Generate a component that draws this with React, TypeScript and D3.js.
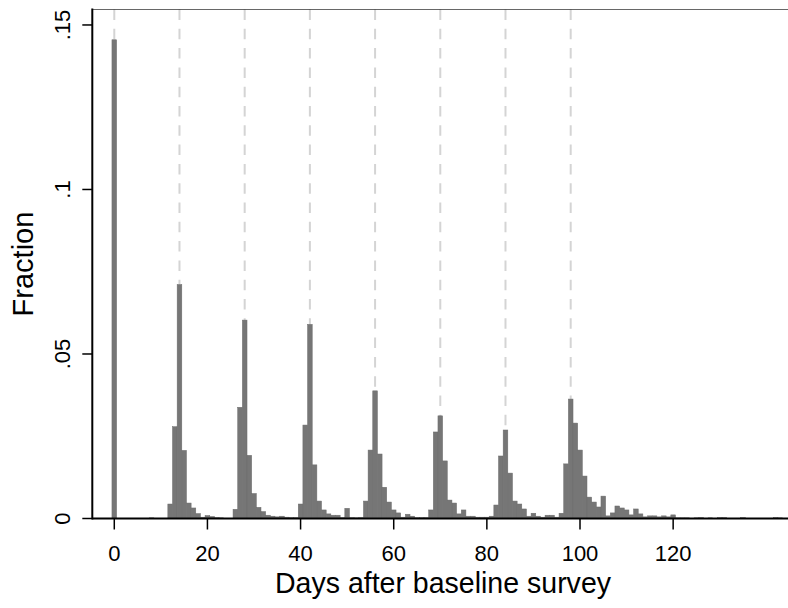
import React from "react";
import * as d3 from "d3";

// Fraction of observations by day after baseline survey (day index = position)
const fractions: number[] = [
  0.1455, 0, 0, 0, 0, 0, 0, 0, 0.0002, 0, // 0-9
  0, 0, 0.0044, 0.0279, 0.0711, 0.0207, 0.0047, 0.0032, 0.0015, 0.0004, // 10-19
  0.0009, 0.0006, 0.0003, 0.0002, 0, 0, 0.0028, 0.0338, 0.0603, 0.0192, // 20-29
  0.0076, 0.0034, 0.0021, 0.001, 0.0007, 0.0005, 0.0007, 0.0004, 0.0003, 0.0003, // 30-39
  0.0044, 0.0284, 0.059, 0.0163, 0.0053, 0.0026, 0.0014, 0.001, 0.001, 0.0003, // 40-49
  0.0031, 0.0003, 0.0002, 0.0003, 0.0053, 0.0208, 0.0388, 0.0196, 0.0095, 0.005, // 50-59
  0.0026, 0.0017, 0.0004, 0.0013, 0.0007, 0.0003, 0.0003, 0.0003, 0.0026, 0.0263, // 60-69
  0.0312, 0.0175, 0.0056, 0.0047, 0.0014, 0.0026, 0.0007, 0.0007, 0.0004, 0.0004, // 70-79
  0.0004, 0.0007, 0.0041, 0.019, 0.0269, 0.0138, 0.0053, 0.0044, 0.0029, 0.0007, // 80-89
  0.0016, 0.0007, 0.0004, 0.001, 0.001, 0.0004, 0.0016, 0.0166, 0.0363, 0.029, // 90-99
  0.0208, 0.0129, 0.0065, 0.005, 0.0035, 0.0068, 0.0008, 0.0017, 0.0038, 0.0032, // 100-109
  0.0026, 0.0011, 0.0029, 0.0014, 0.0005, 0.0008, 0.0008, 0.0005, 0.0008, 0.0005, // 110-119
  0.0011, 0.0002, 0.0002, 0.0002, 0, 0.0002, 0.0003, 0, 0.0002, 0, // 120-129
  0.0003, 0.0003, 0, 0, 0, 0.0003, 0, 0, 0, 0, // 130-139
  0, 0, 0.0003, 0.0002, 0, // 140-144
];

const survey_days: number[] = [0, 14, 28, 42, 56, 70, 84, 98];
const x_ticks: number[] = [0, 20, 40, 60, 80, 100, 120];
const y_ticks: number[] = [0, 0.05, 0.1, 0.15];
const y_tick_labels: string[] = ["0", ".05", ".1", ".15"];

const FONT = "'Liberation Sans', Arial, Helvetica, sans-serif";

export default function App() {
  const W = 788;
  const H = 608;
  const left = 92.3;
  const right = 788;
  const top = 9.5;
  const bottom = 518.5;

  const x = d3.scaleLinear().domain([-4.72, 144.66]).range([left, right]);
  const y = d3.scaleLinear().domain([0, 0.1547]).range([bottom, top]);

  return (
    <svg
      width={W}
      height={H}
      style={{ position: "absolute", left: 0, top: 0, background: "#fff" }}
    >
      <rect x={0} y={0} width={W} height={H} fill="#fff" />
      {/* reference lines */}
      {survey_days.map((d) => (
        <line
          key={"ref" + d}
          x1={x(d)}
          x2={x(d)}
          y1={top}
          y2={bottom}
          stroke="#d4d4d4"
          strokeWidth={2}
          strokeDasharray="10.5 8.8"
        />
      ))}
      {/* bars */}
      {fractions.map((f, d) =>
        f > 0 ? (
          <rect
            key={"b" + d}
            x={x(d - 0.5)}
            y={y(f)}
            width={x(d + 0.5) - x(d - 0.5)}
            height={y(0) - y(f)}
            fill="#767676"
            stroke="#6c6c6c"
            strokeWidth={0.5}
          />
        ) : null
      )}
      {/* top outline */}
      <line x1={left} x2={right} y1={top} y2={top} stroke="#000" strokeWidth={0.6} />
      {/* axes */}
      <line x1={left} x2={right} y1={bottom} y2={bottom} stroke="#000" strokeWidth={1.8} />
      <line x1={left} x2={left} y1={top - 1} y2={bottom + 0.9} stroke="#000" strokeWidth={2} />
      {x_ticks.map((t) => (
        <g key={"xt" + t}>
          <line x1={x(t)} x2={x(t)} y1={bottom} y2={bottom + 11} stroke="#000" strokeWidth={1.5} />
          <text
            x={x(t)}
            y={561}
            textAnchor="middle"
            fontFamily={FONT}
            fontSize={22}
            fill="#000"
          >
            {t}
          </text>
        </g>
      ))}
      {y_ticks.map((t, i) => (
        <g key={"yt" + t}>
          <line x1={left - 10} x2={left} y1={y(t)} y2={y(t)} stroke="#000" strokeWidth={1.5} />
          <text
            transform={`translate(70,${y(t)}) rotate(-90)`}
            textAnchor="middle"
            fontFamily={FONT}
            fontSize={22}
            fill="#000"
          >
            {y_tick_labels[i]}
          </text>
        </g>
      ))}
      <text
        x={443}
        y={593}
        textAnchor="middle"
        fontFamily={FONT}
        fontSize={29}
        textLength={336}
        lengthAdjust="spacingAndGlyphs"
        fill="#000"
      >
        Days after baseline survey
      </text>
      <text
        transform={`translate(33,${(top + bottom) / 2}) rotate(-90)`}
        textAnchor="middle"
        fontFamily={FONT}
        fontSize={29}
        fill="#000"
      >
        Fraction
      </text>
    </svg>
  );
}
